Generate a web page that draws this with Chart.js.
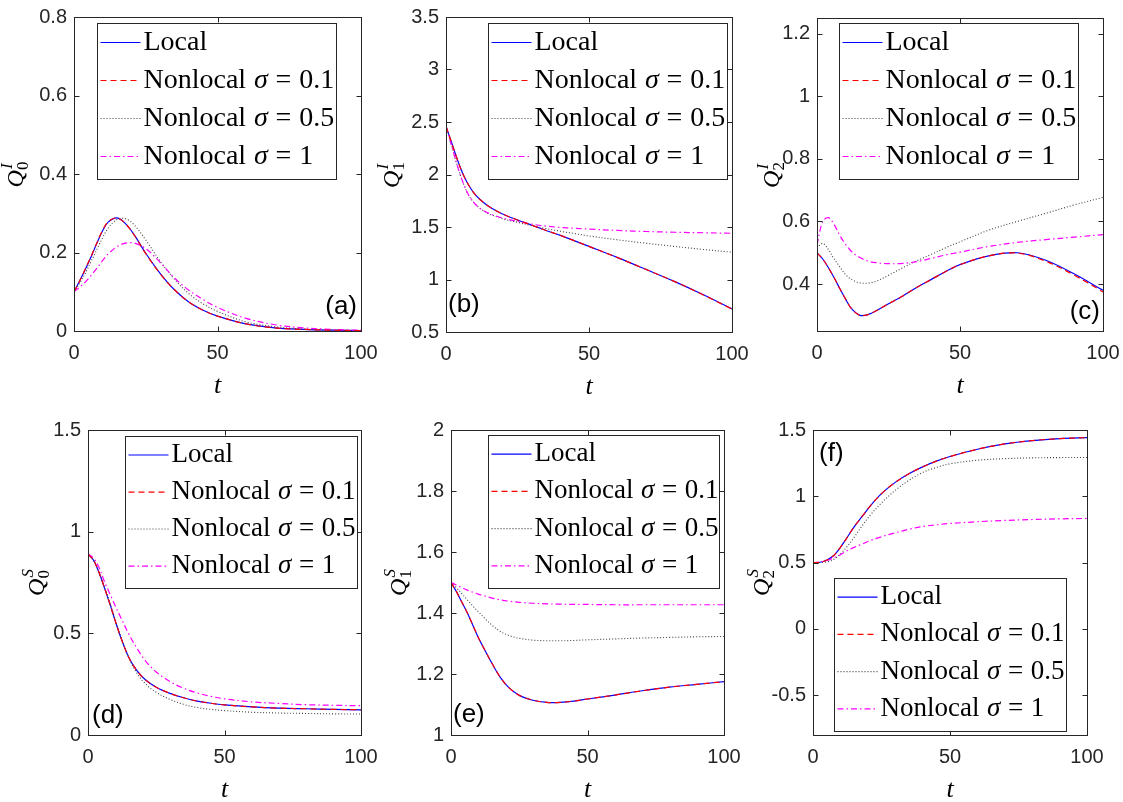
<!DOCTYPE html>
<html lang="en">
<head>
<meta charset="UTF-8">
<title>Moments: local vs nonlocal</title>
<script src="https://cdn.jsdelivr.net/npm/chart.js"></script>
<style>
  html, body { margin: 0; padding: 0; background: #fff; overflow: hidden; }
  body { width: 1123px; height: 802px; position: relative; }
  canvas { position: absolute; }
</style>
</head>
<body>
<canvas id="qa"></canvas>
<canvas id="qb"></canvas>
<canvas id="qc"></canvas>
<canvas id="qd"></canvas>
<canvas id="qe"></canvas>
<canvas id="qf"></canvas>
<script>
// sample times shared by every curve
const t = [0, 2, 4, 6, 8, 10, 12, 15, 18, 21, 25, 30, 35, 40, 45, 50, 60, 70, 80, 90, 100];
const xTicks = [0, 50, 100];
const seriesNames = ['Local', 'Nonlocal σ = 0.1', 'Nonlocal σ = 0.5', 'Nonlocal σ = 1'];

// (a) Q0^I
const q0iLocal = [0.10, 0.128, 0.158, 0.19, 0.224, 0.256, 0.278, 0.288, 0.273, 0.245, 0.198, 0.147, 0.105, 0.074, 0.053, 0.038, 0.018, 0.008, 0.004, 0.002, 0.001];
const q0iS01 = [0.10, 0.128, 0.159, 0.191, 0.225, 0.257, 0.279, 0.288, 0.273, 0.244, 0.197, 0.146, 0.105, 0.074, 0.053, 0.038, 0.018, 0.008, 0.004, 0.002, 0.001];
const q0iS05 = [0.10, 0.122, 0.148, 0.178, 0.208, 0.238, 0.263, 0.284, 0.286, 0.27, 0.232, 0.178, 0.132, 0.095, 0.069, 0.05, 0.023, 0.011, 0.005, 0.002, 0.001];
const q0iS1 = [0.10, 0.112, 0.125, 0.142, 0.16, 0.18, 0.197, 0.215, 0.224, 0.224, 0.21, 0.175, 0.135, 0.104, 0.08, 0.06, 0.032, 0.016, 0.008, 0.004, 0.002];
const q0iTicks = [0, 0.2, 0.4, 0.6, 0.8];

// (b) Q1^I
const q1iLocal = [2.46, 2.3, 2.14, 2.0, 1.895, 1.815, 1.76, 1.695, 1.648, 1.61, 1.567, 1.517, 1.467, 1.42, 1.368, 1.315, 1.208, 1.095, 0.98, 0.855, 0.72];
const q1iS01 = [2.46, 2.3, 2.14, 2.0, 1.895, 1.815, 1.76, 1.695, 1.648, 1.61, 1.567, 1.517, 1.467, 1.42, 1.368, 1.315, 1.208, 1.095, 0.98, 0.853, 0.718];
const q1iS05 = [2.46, 2.27, 2.08, 1.92, 1.80, 1.725, 1.675, 1.625, 1.595, 1.57, 1.545, 1.512, 1.485, 1.46, 1.437, 1.415, 1.378, 1.345, 1.315, 1.286, 1.26];
const q1iS1 = [2.46, 2.27, 2.08, 1.92, 1.80, 1.725, 1.675, 1.63, 1.60, 1.577, 1.553, 1.527, 1.508, 1.496, 1.487, 1.48, 1.467, 1.457, 1.45, 1.445, 1.44];
const q1iTicks = [0.5, 1, 1.5, 2, 2.5, 3, 3.5];

// (c) Q2^I
const q2iLocal = [0.50, 0.48, 0.452, 0.42, 0.385, 0.352, 0.322, 0.30, 0.303, 0.316, 0.337, 0.362, 0.39, 0.415, 0.44, 0.462, 0.49, 0.50, 0.476, 0.432, 0.38];
const q2iS01 = [0.50, 0.48, 0.452, 0.42, 0.385, 0.352, 0.322, 0.30, 0.303, 0.316, 0.337, 0.362, 0.39, 0.415, 0.44, 0.462, 0.49, 0.499, 0.473, 0.428, 0.375];
const q2iS05 = [0.515, 0.53, 0.51, 0.48, 0.455, 0.43, 0.415, 0.404, 0.403, 0.41, 0.428, 0.452, 0.475, 0.495, 0.516, 0.535, 0.572, 0.60, 0.626, 0.653, 0.677];
const q2iS1 = [0.525, 0.60, 0.612, 0.59, 0.555, 0.527, 0.505, 0.485, 0.473, 0.468, 0.465, 0.466, 0.472, 0.482, 0.493, 0.502, 0.52, 0.533, 0.542, 0.55, 0.558];
const q2iTicks = [0.4, 0.6, 0.8, 1, 1.2];

// (d) Q0^S
const q0sLocal = [0.89, 0.86, 0.80, 0.725, 0.645, 0.56, 0.48, 0.38, 0.315, 0.272, 0.235, 0.205, 0.183, 0.167, 0.156, 0.148, 0.138, 0.132, 0.129, 0.126, 0.124];
const q0sS01 = [0.89, 0.86, 0.80, 0.725, 0.645, 0.56, 0.48, 0.38, 0.315, 0.272, 0.235, 0.205, 0.183, 0.167, 0.156, 0.148, 0.138, 0.132, 0.129, 0.126, 0.124];
const q0sS05 = [0.89, 0.86, 0.80, 0.73, 0.652, 0.567, 0.485, 0.378, 0.303, 0.252, 0.21, 0.175, 0.151, 0.135, 0.126, 0.12, 0.112, 0.108, 0.106, 0.104, 0.103];
const q0sS1 = [0.89, 0.87, 0.825, 0.755, 0.695, 0.635, 0.578, 0.495, 0.425, 0.365, 0.31, 0.263, 0.23, 0.207, 0.19, 0.178, 0.163, 0.155, 0.149, 0.146, 0.144];
const q0sTicks = [0, 0.5, 1, 1.5];

// (e) Q1^S
const q1sLocal = [1.5, 1.47, 1.435, 1.40, 1.36, 1.32, 1.285, 1.235, 1.19, 1.157, 1.13, 1.114, 1.107, 1.107, 1.111, 1.118, 1.131, 1.145, 1.157, 1.166, 1.175];
const q1sS01 = [1.5, 1.47, 1.435, 1.40, 1.36, 1.32, 1.285, 1.235, 1.19, 1.157, 1.13, 1.114, 1.107, 1.107, 1.111, 1.118, 1.131, 1.145, 1.157, 1.166, 1.175];
const q1sS05 = [1.5, 1.483, 1.463, 1.443, 1.423, 1.404, 1.386, 1.36, 1.34, 1.327, 1.317, 1.311, 1.309, 1.309, 1.31, 1.312, 1.315, 1.318, 1.32, 1.322, 1.323];
const q1sS1 = [1.5, 1.492, 1.483, 1.475, 1.468, 1.462, 1.457, 1.449, 1.443, 1.439, 1.435, 1.432, 1.43, 1.429, 1.428, 1.428, 1.427, 1.427, 1.427, 1.427, 1.427];
const q1sTicks = [1, 1.2, 1.4, 1.6, 1.8, 2];

// (f) Q2^S
const q2sLocal = [0.5, 0.5, 0.51, 0.53, 0.562, 0.615, 0.675, 0.77, 0.85, 0.93, 1.02, 1.105, 1.17, 1.222, 1.265, 1.30, 1.355, 1.395, 1.42, 1.435, 1.442];
const q2sS01 = [0.5, 0.5, 0.51, 0.53, 0.562, 0.615, 0.675, 0.77, 0.85, 0.93, 1.02, 1.105, 1.17, 1.222, 1.265, 1.30, 1.355, 1.395, 1.42, 1.435, 1.442];
const q2sS05 = [0.5, 0.5, 0.503, 0.51, 0.53, 0.565, 0.61, 0.69, 0.78, 0.86, 0.95, 1.045, 1.12, 1.18, 1.217, 1.245, 1.272, 1.284, 1.29, 1.292, 1.293];
const q2sS1 = [0.5, 0.503, 0.51, 0.522, 0.54, 0.56, 0.585, 0.615, 0.64, 0.667, 0.695, 0.725, 0.752, 0.772, 0.785, 0.795, 0.808, 0.818, 0.825, 0.83, 0.833];
const q2sTicks = [-0.5, 0, 0.5, 1, 1.5];

// MATLAB-like line styles for the four series
const lineStyles = [
  { color: '#0000ff', dash: [], width: 1.2 },
  { color: '#ff0000', dash: [6, 4], width: 1.2 },
  { color: '#404040', dash: [1, 2], width: 1.1 },
  { color: '#ff00ff', dash: [6, 3, 1.5, 3], width: 1.2 }
];

const panels = [
  { id: 'qa', area: [74, 17, 361, 331], yMin: 0, yMax: 0.8, yTicks: q0iTicks,
    series: [q0iLocal, q0iS01, q0iS05, q0iS1], sup: 'I', sub: '0', yTitleOffset: 59,
    tag: { text: '(a)', align: 'right', x: 283, y: 290 }, legend: { x: 23, y: 6, w: 239, h: 156, size: 28 } },
  { id: 'qb', area: [446, 17, 732, 332], yMin: 0.5, yMax: 3.5, yTicks: q1iTicks,
    series: [q1iLocal, q1iS01, q1iS05, q1iS1], sup: 'I', sub: '1', yTitleOffset: 55,
    tag: { text: '(b)', align: 'left', x: 2, y: 288 }, legend: { x: 42, y: 6, w: 239, h: 156, size: 28 } },
  { id: 'qc', area: [817, 18, 1103, 331], yMin: 0.25, yMax: 1.25, yTicks: q2iTicks,
    series: [q2iLocal, q2iS01, q2iS05, q2iS1], sup: 'I', sub: '2', yTitleOffset: 46,
    tag: { text: '(c)', align: 'right', x: 283, y: 294 }, legend: { x: 22, y: 5, w: 239, h: 156, size: 28 } },
  { id: 'qd', area: [88, 430, 361, 735], yMin: 0, yMax: 1.5, yTicks: q0sTicks,
    series: [q0sLocal, q0sS01, q0sS05, q0sS1], sup: 'S', sub: '0', yTitleOffset: 52,
    tag: { text: '(d)', align: 'left', x: 4, y: 286 }, legend: { x: 37, y: 6, w: 232, h: 152, size: 27 } },
  { id: 'qe', area: [451, 430, 724, 735], yMin: 1, yMax: 2, yTicks: q1sTicks,
    series: [q1sLocal, q1sS01, q1sS05, q1sS1], sup: 'S', sub: '1', yTitleOffset: 53,
    tag: { text: '(e)', align: 'left', x: 2, y: 285 }, legend: { x: 37, y: 5, w: 231, h: 153, size: 27 } },
  { id: 'qf', area: [813, 430, 1087, 735], yMin: -0.8, yMax: 1.5, yTicks: q2sTicks,
    series: [q2sLocal, q2sS01, q2sS05, q2sS1], sup: 'S', sub: '2', yTitleOffset: 52,
    tag: { text: '(f)', align: 'left', x: 6, y: 24 }, legend: { x: 21, y: 148, w: 232, h: 153, size: 27 } }
];

const AXIS = '#262626';
const SERIF = '"Liberation Serif", "Times New Roman", serif';
const SANS = '"Liberation Sans", Arial, sans-serif';
const PAD_L = 90, PAD_T = 30, PAD_R = 30, PAD_B = 70;

// legend label: the sigma is set in italics, the rest upright, with math spacing
function drawLabel(ctx, label, x, y, size) {
  const gap = size * 0.28;
  const i = label.indexOf('σ');
  ctx.font = `${size}px ${SERIF}`;
  if (i < 0) { ctx.fillText(label, x, y); return; }
  const head = label.slice(0, i).trim();
  const tail = label.slice(i + 1).trim().split(' ');
  ctx.fillText(head, x, y);
  x += ctx.measureText(head).width + gap;
  ctx.font = `italic ${size}px ${SERIF}`;
  ctx.fillText('σ', x, y);
  x += ctx.measureText('σ').width + gap;
  ctx.font = `${size}px ${SERIF}`;
  tail.forEach(tok => {
    ctx.fillText(tok, x, y);
    x += ctx.measureText(tok).width + gap;
  });
}

const matlabLook = {
  id: 'matlabLook',
  afterDraw(chart) {
    const o = chart.options.plugins.matlabLook;
    const { ctx, chartArea: a, scales } = chart;
    const L = Math.round(a.left) + 0.5, R = Math.round(a.right) + 0.5;
    const T = Math.round(a.top) + 0.5, B = Math.round(a.bottom) + 0.5;
    ctx.save();

    // inward ticks on all four sides, then the box
    ctx.strokeStyle = AXIS;
    ctx.lineWidth = 1;
    ctx.setLineDash([]);
    ctx.beginPath();
    scales.y.ticks.forEach(tk => {
      const y = Math.round(scales.y.getPixelForValue(tk.value)) + 0.5;
      ctx.moveTo(L, y); ctx.lineTo(L + 5, y);
      ctx.moveTo(R, y); ctx.lineTo(R - 5, y);
    });
    scales.x.ticks.forEach(tk => {
      const x = Math.round(scales.x.getPixelForValue(tk.value)) + 0.5;
      ctx.moveTo(x, B); ctx.lineTo(x, B - 5);
      ctx.moveTo(x, T); ctx.lineTo(x, T + 5);
    });
    ctx.stroke();
    ctx.strokeRect(L, T, R - L, B - T);

    // legend box
    const lg = o.legend;
    const bx = Math.round(a.left + lg.x) + 0.5, by = Math.round(a.top + lg.y) + 0.5;
    ctx.fillStyle = '#fff';
    ctx.fillRect(bx, by, lg.w, lg.h);
    ctx.strokeStyle = AXIS;
    ctx.strokeRect(bx, by, lg.w, lg.h);
    ctx.textAlign = 'left';
    ctx.textBaseline = 'middle';
    chart.data.datasets.forEach((ds, i) => {
      const cy = by + lg.h * (19 + i * 38) / 156;
      ctx.strokeStyle = ds.borderColor;
      ctx.lineWidth = ds.borderWidth;
      ctx.setLineDash(ds.borderDash);
      ctx.beginPath();
      ctx.moveTo(bx + 3, cy);
      ctx.lineTo(bx + 43, cy);
      ctx.stroke();
      ctx.fillStyle = '#000';
      drawLabel(ctx, ds.label, bx + 46, cy, lg.size);
    });
    ctx.setLineDash([]);

    // panel tag
    ctx.fillStyle = '#000';
    ctx.font = `26px ${SANS}`;
    ctx.textAlign = o.tag.align;
    ctx.textBaseline = 'middle';
    ctx.fillText(o.tag.text, a.left + o.tag.x, a.top + o.tag.y);

    // x title
    ctx.font = `italic 26px ${SERIF}`;
    ctx.textAlign = 'center';
    ctx.fillText('t', (a.left + a.right) / 2, a.bottom + 55);

    // y title Q with sub/superscript, rotated
    ctx.translate(a.left - o.yTitleOffset, (a.top + a.bottom) / 2);
    ctx.rotate(-Math.PI / 2);
    ctx.textAlign = 'left';
    ctx.textBaseline = 'alphabetic';
    ctx.font = `italic 24px ${SERIF}`;
    const wq = ctx.measureText('Q').width;
    ctx.font = `italic 17px ${SERIF}`;
    const ws = ctx.measureText(o.sup).width;
    ctx.font = `17px ${SERIF}`;
    const wb = ctx.measureText(o.sub).width;
    const x0 = -(wq + 1 + Math.max(ws, wb)) / 2;
    ctx.font = `italic 24px ${SERIF}`;
    ctx.fillText('Q', x0, 8);
    ctx.font = `italic 17px ${SERIF}`;
    ctx.fillText(o.sup, x0 + wq + 1, -3);
    ctx.font = `17px ${SERIF}`;
    ctx.fillText(o.sub, x0 + wq, 13);
    ctx.restore();
  }
};

panels.forEach(p => {
  const [l, top, r, b] = p.area;
  const cv = document.getElementById(p.id);
  cv.width = r - l + PAD_L + PAD_R;
  cv.height = b - top + PAD_T + PAD_B;
  cv.style.left = (l - PAD_L) + 'px';
  cv.style.top = (top - PAD_T) + 'px';

  const datasets = p.series.map((vals, i) => ({
    label: seriesNames[i],
    data: t.map((x, k) => ({ x, y: vals[k] })),
    borderColor: lineStyles[i].color,
    borderDash: lineStyles[i].dash,
    borderWidth: lineStyles[i].width,
    pointRadius: 0,
    fill: false,
    tension: 0.35,
    order: 4 - i
  }));
  // keep the red dashed line above the blue one
  datasets[1].order = 0;

  const tickFont = { family: SANS, size: 20 };
  new Chart(cv, {
    type: 'line',
    data: { datasets },
    options: {
      responsive: false,
      animation: false,
      events: [],
      layout: { padding: { left: 0, top: PAD_T, right: PAD_R, bottom: 0 } },
      plugins: {
        legend: { display: false },
        tooltip: { enabled: false },
        matlabLook: { legend: p.legend, tag: p.tag, sup: p.sup, sub: p.sub, yTitleOffset: p.yTitleOffset }
      },
      scales: {
        x: {
          type: 'linear', min: 0, max: 100,
          afterBuildTicks: s => { s.ticks = xTicks.map(v => ({ value: v })); },
          afterFit: s => { s.height = PAD_B; },
          grid: { display: false, drawTicks: false },
          border: { display: false },
          ticks: { font: tickFont, color: AXIS, padding: 10, maxRotation: 0, autoSkip: false, callback: v => String(v) }
        },
        y: {
          type: 'linear', min: p.yMin, max: p.yMax,
          afterBuildTicks: s => { s.ticks = p.yTicks.map(v => ({ value: v })); },
          afterFit: s => { s.width = PAD_L; },
          grid: { display: false, drawTicks: false },
          border: { display: false },
          ticks: { font: tickFont, color: AXIS, padding: 7, autoSkip: false, callback: v => String(v) }
        }
      }
    },
    plugins: [matlabLook]
  });
});
</script>
</body>
</html>
